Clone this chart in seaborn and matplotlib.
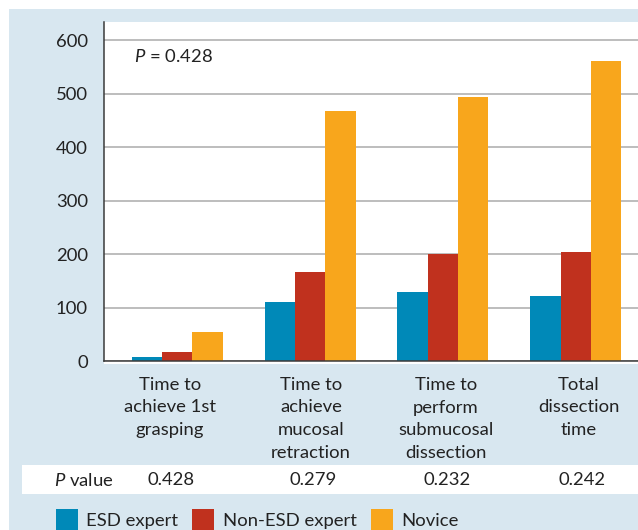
import numpy as np
import pandas as pd
import matplotlib
matplotlib.use("Agg")
import matplotlib.pyplot as plt
import seaborn as sns
from matplotlib.patches import Rectangle
from matplotlib.transforms import blended_transform_factory

# ---------------- data ----------------
categories = [
    "Time to\nachieve 1st\ngrasping",
    "Time to\nachieve\nmucosal\nretraction",
    "Time to\nperform\nsubmucosal\ndissection",
    "Total\ndissection\ntime",
]
groups = ["ESD expert", "Non-ESD expert", "Novice"]
esd_expert = [8, 110, 129, 121]
non_esd_expert = [17, 166, 200, 204]
novice = [54, 467, 493, 561]
p_values = ["0.428", "0.279", "0.232", "0.242"]
overall_p = "0.428"
y_ticks = [0, 100, 200, 300, 400, 500, 600]

colors = ["#0089b8", "#c0311e", "#f8a61c"]
bg_blue = "#d8e7f0"
text_col = "#222222"
FS = 13.3

rows = []
for g, vals in zip(groups, [esd_expert, non_esd_expert, novice]):
    for c, v in zip(categories, vals):
        rows.append({"category": c, "group": g, "value": v})
df = pd.DataFrame(rows)

# ---------------- style ----------------
sns.set_style("white")
plt.rcParams["font.family"] = ["Lato", "DejaVu Sans"]
plt.rcParams["mathtext.fontset"] = "custom"
plt.rcParams["mathtext.rm"] = "Lato"
plt.rcParams["mathtext.it"] = "Lato:italic"

W, H = 638, 530
fig = plt.figure(figsize=(W / 100, H / 100), dpi=100)
fig.patch.set_facecolor("white")

def fx(px):
    return px / W

def fy(py):
    return 1 - py / H

# light-blue panel
fig.patches.append(Rectangle((fx(9), 0), 1, fy(9), transform=fig.transFigure,
                             facecolor=bg_blue, edgecolor="none", zorder=-10))
# white strip under axis
fig.patches.append(Rectangle((fx(104), fy(364)), 1, fy(361) - fy(364),
                             transform=fig.transFigure, facecolor="white",
                             edgecolor="none", zorder=-9))
# P value row band
fig.patches.append(Rectangle((fx(22), fy(494)), 1, fy(465) - fy(494),
                             transform=fig.transFigure, facecolor="white",
                             edgecolor="none", zorder=-9))

ax = fig.add_axes([fx(104), fy(361), (638 - 104) / W, (361 - 22) / H])
ax.set_facecolor("white")

sns.barplot(data=df, x="category", y="value", hue="group", order=categories,
            hue_order=groups, palette=colors, width=0.684, saturation=1,
            linewidth=0, errorbar=None, ax=ax)
handles, labels = ax.get_legend_handles_labels()
if ax.get_legend() is not None:
    ax.get_legend().remove()

ax.set_xlim(-0.552, 3.469)
ax.set_ylim(0, 633.7)
ax.set_yticks(y_ticks)
ax.set_yticklabels([str(t) for t in y_ticks])
ax.yaxis.grid(True, color="#b8b8b8", linewidth=1.3)
ax.xaxis.grid(False)
ax.set_axisbelow(True)
ax.set_xlabel("")
ax.set_ylabel("")

ax.set_xticks([-0.552, 0.45, 1.452, 2.454, 3.455])
ax.set_xticklabels([])
ax.tick_params(axis="x", length=8, width=1.0, direction="out", color="#444444")
ax.tick_params(axis="y", length=7.5, width=1.0, direction="out", color="#444444",
               pad=4, labelsize=FS, labelcolor=text_col)

for s in ["top", "right"]:
    ax.spines[s].set_visible(False)
for s in ["left", "bottom"]:
    ax.spines[s].set_color("#3a3a3a")
    ax.spines[s].set_linewidth(1.1)

# overall P annotation
ax.text((134 - 104) / 534, (361 - 56) / 339, r"$P$ = " + overall_p,
        transform=ax.transAxes, ha="left", va="center", fontsize=FS,
        color=text_col)

# category labels
label_offsets = [-0.055, 0.007, 0.023, 0.025]
tr_lab = blended_transform_factory(ax.transData, fig.transFigure)
for i, (c, off) in enumerate(zip(categories, label_offsets)):
    ax.text(i + off, fy(377), c, transform=tr_lab, ha="center", va="top",
            fontsize=FS, linespacing=1.5, color=text_col)

# P value row
fig.text(fx(54.5), fy(480), r"$P$ value", ha="left", va="center",
         fontsize=FS, color=text_col)
p_offsets = [-0.047, 0.022, 0.03, 0.05]
for i, (p, off) in enumerate(zip(p_values, p_offsets)):
    ax.text(i + off, fy(480), p, transform=tr_lab, ha="center", va="center",
            fontsize=FS, color=text_col)

# legend
fig.legend(handles, labels, loc="upper left", bbox_to_anchor=(fx(56), fy(509)),
           bbox_transform=fig.transFigure, ncol=3, frameon=False,
           fontsize=FS, handlelength=1.2, handleheight=1.5,
           handletextpad=0.45, columnspacing=0.75, borderpad=0,
           borderaxespad=0, labelcolor=text_col)

fig.savefig("out.png", dpi=100, facecolor=fig.get_facecolor())
